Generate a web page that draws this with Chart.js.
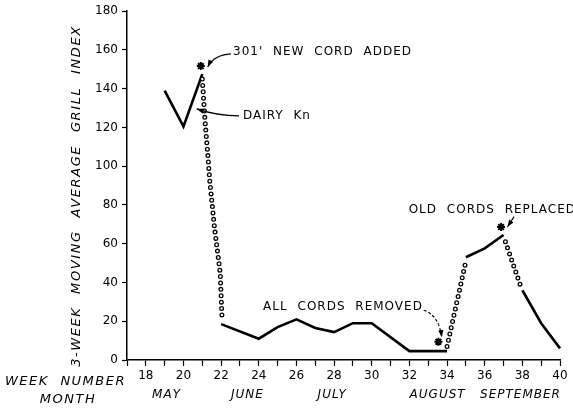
<!DOCTYPE html>
<html>
<head>
<meta charset="utf-8">
<script src="https://cdn.jsdelivr.net/npm/chart.js@4"></script>
<style>
  body { margin: 0; background: #fff; }
  #chart-div { width: 573px; height: 413px; }
</style>
</head>
<body>
<div id="chart-div"><canvas id="myChart" width="573" height="413"></canvas></div>
<script>
// values (week number, 3-week moving average grill index)
const mayWeeks = [19, 20, 21];
const mayIndex = [139, 120.5, 147.5];

const dropWeeks = [21, 21.15, 21.3, 21.4, 21.65, 21.95, 22.05];
const dropIndex = [145, 122.6, 105, 92, 68, 45, 21];

const summerWeeks = [22, 24, 25, 26, 27, 28, 29, 30, 32, 34];
const summerIndex = [18.5, 11, 17, 21, 16.5, 14.4, 19, 19, 4.6, 4.6];

const riseWeeks = [34, 35];
const riseIndex = [7, 51];

const replacedWeeks = [35, 36, 37];
const replacedIndex = [53, 57.6, 64.5];

const fallWeeks = [37.1, 37.95];
const fallIndex = [61, 37];

const lateWeeks = [38, 39, 40];
const lateIndex = [36, 19, 6];

const starWeeks = [20.92, 33.54, 36.87];
const starIndex = [151.7, 9.4, 68.6];

const months = ['MAY', 'JUNE', 'JULY', 'AUGUST', 'SEPTEMBER'];
const monthWeeks = [19.1, 23.4, 27.9, 33.5, 37.9];

const notes = ["301' NEW CORD ADDED", 'DAIRY Kn', 'ALL CORDS REMOVED', 'OLD CORDS REPLACED'];

let puntos = (xs, ys) => xs.map((x, i) => ({x: x, y: ys[i]}));

let solido = (xs, ys) => ({
    data: puntos(xs, ys),
    borderColor: '#000',
    borderWidth: 2.6,
    pointRadius: 0,
    order: 2
});

// open circles: a dotted black line with a thinner white dotted line on top
let circulos = (xs, ys) => [{
    data: puntos(xs, ys),
    borderColor: '#000',
    borderWidth: 5,
    borderDash: [0, 6.4],
    borderCapStyle: 'round',
    pointRadius: 0,
    order: 1
}, {
    data: puntos(xs, ys),
    borderColor: '#fff',
    borderWidth: 2.4,
    borderDash: [0, 6.4],
    borderCapStyle: 'round',
    pointRadius: 0,
    order: 0
}];

let flecha = (ctx, x0, y0, cx, cy, x1, y1, dashed) => {
    ctx.save();
    ctx.lineWidth = 1.1;
    ctx.strokeStyle = '#000';
    ctx.fillStyle = '#000';
    if (dashed) ctx.setLineDash([3, 2]);
    ctx.beginPath();
    ctx.moveTo(x0, y0);
    ctx.quadraticCurveTo(cx, cy, x1, y1);
    ctx.stroke();
    ctx.setLineDash([]);
    let ang = Math.atan2(y1 - cy, x1 - cx);
    ctx.beginPath();
    ctx.moveTo(x1, y1);
    ctx.lineTo(x1 - 7 * Math.cos(ang) + 2.6 * Math.sin(ang), y1 - 7 * Math.sin(ang) - 2.6 * Math.cos(ang));
    ctx.lineTo(x1 - 7 * Math.cos(ang) - 2.6 * Math.sin(ang), y1 - 7 * Math.sin(ang) + 2.6 * Math.cos(ang));
    ctx.closePath();
    ctx.fill();
    ctx.restore();
};

const textos = {
    id: 'textos',
    afterDraw: (chart) => {
        let ctx = chart.ctx;
        let sx = chart.scales.x, sy = chart.scales.y;
        let px = v => sx.getPixelForValue(v), py = v => sy.getPixelForValue(v);
        let area = chart.chartArea;
        ctx.save();
        ctx.fillStyle = '#000';
        ctx.textBaseline = 'middle';

        // y axis title
        ctx.save();
        ctx.translate(77, 196);
        ctx.rotate(-Math.PI / 2);
        ctx.font = 'italic 13px "DejaVu Sans"';
        ctx.letterSpacing = '1.6px';
        ctx.wordSpacing = '7px';
        ctx.textAlign = 'center';
        ctx.fillText('3-WEEK MOVING AVERAGE GRILL INDEX', 0, 0);
        ctx.restore();

        // x axis titles
        ctx.font = 'italic 13px "DejaVu Sans"';
        ctx.letterSpacing = '1.5px';
        ctx.wordSpacing = '6px';
        ctx.textAlign = 'right';
        ctx.fillText('WEEK NUMBER', area.left - 1, 382);
        ctx.textAlign = 'center';
        ctx.fillText('MONTH', 68, 400);
        ctx.font = 'italic 12px "DejaVu Sans"';
        ctx.letterSpacing = '1px';
        for (let i = 0; i < months.length; i++) {
            ctx.fillText(months[i], px(monthWeeks[i]), 395);
        }

        // notes
        ctx.font = '12px "DejaVu Sans"';
        ctx.letterSpacing = '1px';
        ctx.wordSpacing = '5px';
        ctx.textAlign = 'left';
        ctx.fillText(notes[0], px(22.63), py(159));
        ctx.fillText(notes[1], px(23.16), py(126));
        ctx.fillText(notes[2], px(24.23), py(27.3));
        ctx.fillText(notes[3], px(31.96), py(77.7));
        ctx.restore();

        flecha(ctx, px(22.52), py(158), px(21.6), py(157.4), px(21.29), py(151.2), false);
        flecha(ctx, px(22.95), py(126), px(21.8), py(126), px(20.7), py(129.6), false);
        flecha(ctx, px(32.76), py(25.7), px(33.56), py(23.1), px(33.72), py(11.8), true);
        flecha(ctx, px(37.56), py(74), px(37.4), py(71.5), px(37.21), py(68.7), false);
    }
};

let datasets = [];
datasets.push({
    data: puntos(starWeeks, starIndex),
    showLine: false,
    pointStyle: 'star',
    pointRadius: 4,
    borderWidth: 2,
    borderColor: '#000',
    order: -1
});
datasets.push(solido(mayWeeks, mayIndex));
datasets.push(solido(summerWeeks, summerIndex));
datasets.push(solido(replacedWeeks, replacedIndex));
datasets.push(solido(lateWeeks, lateIndex));
datasets.push(...circulos(dropWeeks, dropIndex));
datasets.push(...circulos(riseWeeks, riseIndex));
datasets.push(...circulos(fallWeeks, fallIndex));

new Chart('myChart', {
    type: 'line',
    data: { datasets: datasets },
    options: {
        responsive: false,
        animation: false,
        clip: false,
        layout: { padding: { top: 10, right: 13, left: 0, bottom: 0 } },
        plugins: { legend: { display: false }, tooltip: { enabled: false } },
        scales: {
            x: {
                type: 'linear',
                min: 17,
                max: 40,
                afterFit: s => { s.height = 53; },
                afterBuildTicks: s => {
                    s.ticks = [];
                    for (let w = 17; w <= 40; w++) s.ticks.push({value: w});
                },
                ticks: {
                    autoSkip: false,
                    maxRotation: 0,
                    padding: 3,
                    color: '#000',
                    font: { family: 'DejaVu Sans', size: 12 },
                    callback: v => (v % 2 === 0) ? v : ''
                },
                grid: { drawOnChartArea: false, tickLength: 6, color: '#000', tickWidth: 1.2 },
                border: { color: '#000', width: 1.5 }
            },
            y: {
                min: 0,
                max: 180,
                afterFit: s => { s.width = 127; },
                ticks: {
                    stepSize: 20,
                    padding: 4,
                    color: '#000',
                    font: { family: 'DejaVu Sans', size: 12 }
                },
                grid: { drawOnChartArea: false, tickLength: 5, color: '#000', tickWidth: 1.2 },
                border: { color: '#000', width: 1.5 }
            }
        }
    },
    plugins: [textos]
});
</script>
</body>
</html>
